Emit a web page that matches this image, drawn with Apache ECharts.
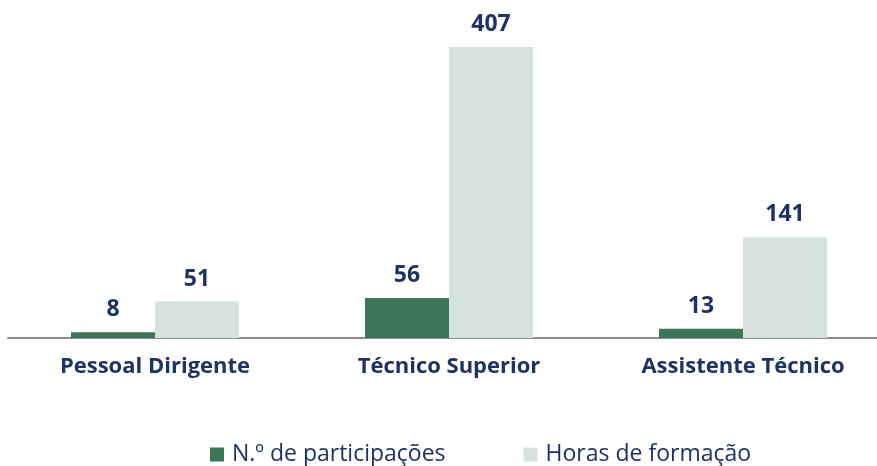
<!DOCTYPE html>
<html><head><meta charset="utf-8">
<script src="https://cdn.jsdelivr.net/npm/echarts@6/dist/echarts.min.js"></script>
<style>html,body{margin:0;padding:0;background:#fff;overflow:hidden}#c{width:890px;height:466px}</style>
</head><body><div id="c"></div>
<script>
const categories = ['Pessoal Dirigente', 'Técnico Superior', 'Assistente Técnico'];
const participacoes = [8, 56, 13];
const horas = [51, 407, 141];
const seriesNames = ['N.º de participações', 'Horas de formação'];

const navy = '#1f3362';
const font = 'Open Sans';
const chart = echarts.init(document.getElementById('c'));
chart.setOption({
  animation: false,
  grid: { left: 8, right: 0, top: 47, bottom: 128 },
  legend: {
    top: 438, left: 205,
    itemWidth: 14, itemHeight: 14, itemGap: 78,
    icon: 'rect',
    textStyle: { fontFamily: font, fontSize: 23, color: navy, padding: [0, 0, 0, 3] },
    data: seriesNames
  },
  xAxis: {
    type: 'category', data: categories,
    axisLine: { lineStyle: { color: '#8c8c8c', width: 2 } },
    axisTick: { show: false },
    axisLabel: { fontFamily: font, fontWeight: 'bold', fontSize: 22, color: navy, margin: 18 }
  },
  yAxis: { type: 'value', min: 0, max: 407, show: false, splitLine: { show: false } },
  series: [
    { name: seriesNames[0], type: 'bar', data: participacoes, barWidth: 84, barGap: '0%',
      itemStyle: { color: '#3c7558' },
      label: { show: true, position: 'top', distance: 11, fontFamily: font, fontWeight: 'bold', fontSize: 23, color: navy } },
    { name: seriesNames[1], type: 'bar', data: horas, barWidth: 84, barGap: '0%',
      itemStyle: { color: '#d6e2dc' },
      label: { show: true, position: 'top', distance: 11, fontFamily: font, fontWeight: 'bold', fontSize: 23, color: navy } }
  ]
});
</script></body></html>
